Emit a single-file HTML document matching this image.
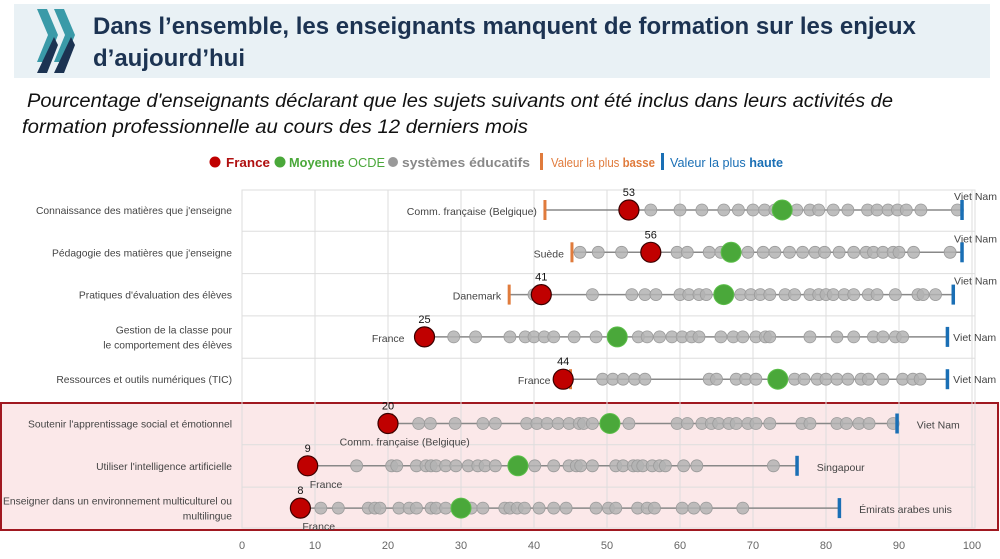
<!DOCTYPE html>
<html><head><meta charset="utf-8"><style>
body{margin:0;width:1000px;height:559px;background:#fff;overflow:hidden;font-family:"Liberation Sans",sans-serif}
svg{position:absolute;left:0;top:0}
</style></head><body>
<svg width="1000" height="559" id="chart">
<rect x="0" y="0" width="1000" height="559" fill="#fff"/>
<rect x="14" y="4" width="976" height="74" fill="#e9f1f5"/>
<g>
<polygon points="37,9 47,9 58,35 47,62 37,62 48,35" fill="#3a9aa8"/>
<polygon points="54,9 64,9 75,35 64,62 54,62 65,35" fill="#3a9aa8"/>
<polygon points="37,73 47,73 58,45 54,37" fill="#1c3352"/>
<polygon points="54,73 64,73 75,45 71,37" fill="#1c3352"/>
</g>
<text x="93" y="34" font-weight="bold" font-size="24" fill="#1c3352">Dans l’ensemble, les enseignants manquent de formation sur les enjeux</text>
<text x="93" y="66" font-weight="bold" font-size="24" fill="#1c3352">d’aujourd’hui</text>
<text x="27" y="107" font-style="italic" font-size="19.5" fill="#111" textLength="866" lengthAdjust="spacingAndGlyphs">Pourcentage d'enseignants déclarant que les sujets suivants ont été inclus dans leurs activités de</text>
<text x="22" y="133" font-style="italic" font-size="19.5" fill="#111" textLength="506" lengthAdjust="spacingAndGlyphs">formation professionnelle au cours des 12 derniers mois</text>
<g font-size="12.5">
<circle cx="215" cy="162" r="5.5" fill="#c00000"/><text x="226" y="167" font-weight="bold" fill="#b01010" textLength="44" lengthAdjust="spacingAndGlyphs">France</text>
<circle cx="280" cy="162" r="5.5" fill="#4aa83a"/><text x="289" y="167" fill="#4aa83a" textLength="96" lengthAdjust="spacingAndGlyphs"><tspan font-weight="bold">Moyenne</tspan> OCDE</text>
<circle cx="393" cy="162" r="5" fill="#999"/><text x="402" y="167" fill="#888" font-weight="bold" textLength="128" lengthAdjust="spacingAndGlyphs">systèmes éducatifs</text>
<rect x="540" y="153" width="3" height="17" fill="#e07b3c"/><text x="551" y="167" fill="#e07b3c" textLength="104" lengthAdjust="spacingAndGlyphs">Valeur la plus <tspan font-weight="bold">basse</tspan></text>
<rect x="661" y="153" width="3" height="17" fill="#1a6fb5"/><text x="670" y="167" fill="#1a6fb5" textLength="113" lengthAdjust="spacingAndGlyphs">Valeur la plus <tspan font-weight="bold">haute</tspan></text>
</g>
<rect x="1" y="403" width="997" height="127" fill="#fbe8e9" stroke="#a01820" stroke-width="2"/>
<g id="grid"></g><g id="rows"></g><g id="axis"></g>
</svg>
<script>
const categories=["Connaissance des matières que j'enseigne","Pédagogie des matières que j'enseigne","Pratiques d'évaluation des élèves","Gestion de la classe pour|le comportement des élèves","Ressources et outils numériques (TIC)","Soutenir l'apprentissage social et émotionnel","Utiliser l'intelligence artificielle","Enseigner dans un environnement multiculturel ou|multilingue"];
const franceValues=[53,56,41,25,44,20,9,8];
const franceLabels=["53","56","41","25","44","20","9","8"];
const oecdValues=[74,67,66,51.4,73.4,50.4,37.8,30];
const minValues=[41.5,45.2,36.6,25,45,20.5,9,8];
const maxValues=[98.6,98.6,97.4,96.6,96.6,89.7,76,81.8];
const minNames=["Comm. française (Belgique)","Suède","Danemark","France","France","Comm. française (Belgique)","France","France"];
const maxNames=["Viet Nam","Viet Nam","Viet Nam","Viet Nam","Viet Nam","Viet Nam","Singapour","Émirats arabes unis"];
const systems=[
[56,60,63,66,68,70,71.6,73,76,77.8,79,81,83,85.7,87,88.5,89.8,91,93,98],
[46.3,48.8,52,59.6,61,64,65.6,69.3,71.4,73,75,76.8,78.5,79.8,81.8,83.8,85.5,86.5,87.8,89.2,90,92,97],
[40,48,53.4,55.2,56.7,60,61.2,62.6,63.6,68.3,69.7,71,72.3,74.4,75.7,77.8,79,80,81,82.5,83.8,85.8,87,89.5,92.6,93.3,95],
[29,32,36.7,38.8,40,41.4,42.7,45.5,48.5,54.3,55.5,57.2,58.9,60.3,61.6,62.6,65.6,67.3,68.6,70.4,71.7,72.3,77.8,81.5,83.8,86.5,87.8,89.5,90.5],
[49.4,50.8,52.2,53.8,55.2,64,65,67.7,69,70.4,75.7,77,78.8,80,81.5,83,84.8,85.8,87.8,90.5,91.9,92.9],
[24.2,25.8,29.2,33,34.7,39,40.4,41.8,43.3,44.8,46.2,46.8,48,53,59.6,61,63,64.3,65.3,66.7,67.7,69.3,70.4,72.3,76.7,77.8,81.5,82.8,84.5,85.9,89.2],
[15.7,20.5,21.2,23.9,25.2,25.9,26.6,27.9,29.3,31,32.3,33.3,34.7,40.1,42.7,44.8,45.8,46.4,48,51.2,52.2,53.6,54.2,54.9,56.2,57.2,58,60.5,62.3,72.8],
[10.8,13.2,17.3,18.2,18.9,21.5,22.9,23.9,25.9,26.6,27.9,31.4,33,36,36.7,37.7,38.7,40.7,42.7,44.4,48.5,50.2,51.2,54.2,55.5,56.5,60.3,61.9,63.6,68.6]];
const ticks=[0,10,20,30,40,50,60,70,80,90,100];
const NS="http://www.w3.org/2000/svg";
const X=v=>242+v*7.3;
const rowY=i=>210+i*42.3+(i>=5?2:0);
function mk(t,a,p){const e=document.createElementNS(NS,t);for(const k in a)e.setAttribute(k,a[k]);p.appendChild(e);return e;}
const grid=document.getElementById('grid'),rows=document.getElementById('rows'),axis=document.getElementById('axis');
mk('rect',{x:242,y:190,width:733,height:338,fill:'none',stroke:'#ddd'},grid);
ticks.forEach(t=>{
 const l=mk('line',{x1:X(t),x2:X(t),y1:190,y2:528,stroke:'#ddd'},grid);
 
 
 const tx=mk('text',{x:X(t),y:549,'text-anchor':'middle','font-size':11,fill:'#666'},axis);tx.textContent=t;
 
 
});
categories.forEach((c,i)=>{
 const y=rowY(i);
 if(i>0&&i!==5)mk('line',{x1:242,x2:975,y1:y-21,y2:y-21,stroke:'#ddd'},grid);
 const g=mk('g',{},rows);
 
 
 const parts=c.split('|');
 parts.forEach((p,k)=>{const t=mk('text',{x:232,y:y+4+(k-(parts.length-1)/2)*15,'text-anchor':'end','font-size':10.3,fill:'#444'},g);t.textContent=p;
  
  });
 mk('line',{x1:X(minValues[i]),x2:X(maxValues[i]),y1:y,y2:y,stroke:'#888','stroke-width':1.5},g);
 systems[i].forEach(v=>{const d=mk('circle',{cx:X(v),cy:y,r:6,fill:'#b3b3b3','fill-opacity':0.85,stroke:'#9a9a9a','stroke-width':0.8},g);
  
  });
 const mn=mk('rect',{x:X(minValues[i])-1.5,y:y-10,width:3,height:20,fill:'#e07b3c'},g);
 
 
 const mx=mk('rect',{x:X(maxValues[i])-1.5,y:y-10,width:3.5,height:20,fill:'#1a6fb5'},g);
 
 
 const oe=mk('circle',{cx:X(oecdValues[i]),cy:y,r:10,fill:'#4aa83a',stroke:'#5cbf4a'},g);
 
 
 const fr=mk('circle',{cx:X(franceValues[i]),cy:y,r:10,fill:'#c00000',stroke:'#3a0000','stroke-width':1.2},g);
 
 
 const fl=mk('text',{x:X(franceValues[i]),y:y-14,'text-anchor':'middle','font-size':11,fill:'#111'},g);fl.textContent=franceLabels[i];
 
 
 let mnX,mnY,anchor='end';
 if(i===5){mnX=X(minValues[i])-52;mnY=y+22;anchor='start';}
 else if(i>=6){mnX=X(minValues[i])+2;mnY=y+22;anchor='start';}
 else if(i===3||i===4){mnX=X(minValues[i])-20;mnY=y+5;}
 else {mnX=X(minValues[i])-8;mnY=y+5;}
 const ml=mk('text',{x:mnX,y:mnY,'text-anchor':anchor,'font-size':10.5,fill:'#444'},g);ml.textContent=minNames[i];
 
 
 let xX,xY,xa='start';
 if(i<3){xX=997;xY=y-10;xa='end';}
 else if(i<5){xX=X(maxValues[i])+6;xY=y+4;}
 else {xX=X(maxValues[i])+20;xY=y+5;}
 const xl=mk('text',{x:xX,y:xY,'text-anchor':xa,'font-size':10.5,fill:'#444'},g);xl.textContent=maxNames[i];
 
 
});
</script>
</body></html>
